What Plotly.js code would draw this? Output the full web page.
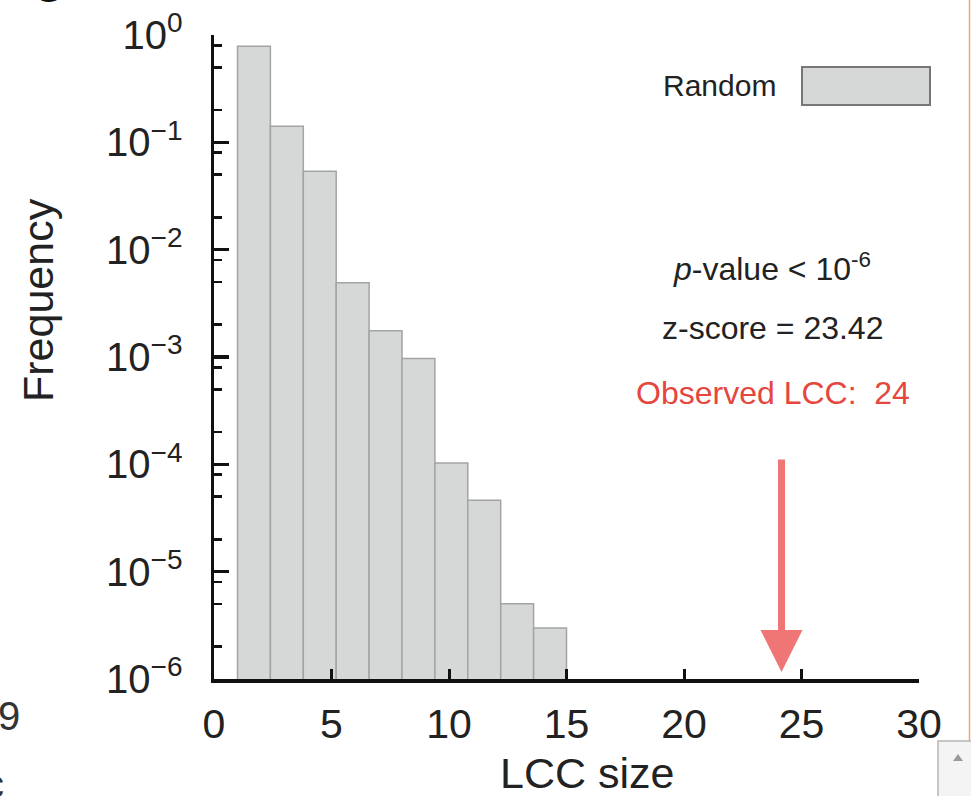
<!DOCTYPE html>
<html>
<head>
<meta charset="utf-8">
<script src="https://cdn.plot.ly/plotly-3.0.1.min.js"></script>
<style>html,body{margin:0;padding:0;background:#fff;overflow:hidden;}#chart{width:971px;height:796px;}</style>
</head>
<body>
<div id="chart"></div>
<script>
// ---- data ----
var binCenters = [1.7, 3.1, 4.5, 5.9, 7.3, 8.7, 10.1, 11.5, 12.9, 14.3];
var binWidth = 1.4;
var frequency = [0.787, 0.141, 0.0538, 0.00491, 0.00176, 0.000966, 0.000103, 0.0000462, 0.00000503, 0.00000299];
var yTickVals = [1, 0.1, 0.01, 0.001, 0.0001, 0.00001, 0.000001];
var yTickText = ['10<sup>0</sup>', '10<sup>\u22121</sup>', '10<sup>\u22122</sup>', '10<sup>\u22123</sup>', '10<sup>\u22124</sup>', '10<sup>\u22125</sup>', '10<sup>\u22126</sup>'];
var yMinorVals = [];
[1, 0.1, 0.01, 0.001, 0.0001, 0.00001, 0.000001].forEach(function (d) {
  if (d > 0.000001) { [0.8, 0.5, 0.2].forEach(function (m) { yMinorVals.push(d * m); }); }
});
var xTickVals = [0, 5, 10, 15, 20, 25, 30];
var seriesName = 'Random';
var observedLCC = 24;
var arrowX = 24.15;
var pValueText = '<i>p</i>-value &lt; 10<sup>-6</sup>';
var zScoreText = 'z-score = 23.42';

// ---- layout helpers (pixel -> paper) ----
var W = 971, H = 796, ML = 214, MR = 52, MT = 35, MB = 117;
var PW = W - ML - MR, PH = H - MT - MB;
function px(x) { return (x - ML) / PW; }
function py(y) { return (H - MB - y) / PH; }

var FONT = 'Liberation Sans, Arial, Helvetica, sans-serif';
var TXT = '#222222';

var trace = {
  type: 'bar',
  x: binCenters,
  y: frequency,
  width: binWidth,
  name: seriesName,
  marker: { color: '#d6d8d7', line: { color: '#a3a5a4', width: 1.5 } },
  showlegend: false,
  hoverinfo: 'x+y'
};

var layout = {
  width: W, height: H,
  margin: { l: ML, r: MR, t: MT, b: MB, pad: 0 },
  paper_bgcolor: '#ffffff', plot_bgcolor: '#ffffff',
  font: { family: FONT, color: TXT },
  showlegend: false,
  bargap: 0,
  xaxis: {
    range: [0, 30], tickmode: 'array', tickvals: xTickVals,
    ticks: 'inside', ticklen: 10, tickwidth: 3, tickcolor: '#111',
    showline: true, linecolor: '#111', linewidth: 3.5,
    showgrid: false, zeroline: false,
    tickfont: { size: 41, color: TXT, family: FONT },
    ticklabelstandoff: 6
  },
  yaxis: {
    type: 'log', range: [-6, 0],
    tickmode: 'array', tickvals: yTickVals, ticktext: yTickText,
    ticks: 'inside', ticklen: 15, tickwidth: 3.5, tickcolor: '#111',
    showline: true, linecolor: '#111', linewidth: 3.5,
    showgrid: false, zeroline: false,
    tickfont: { size: 40, color: TXT, family: FONT },
    ticklabelstandoff: 20,
    minor: { tickmode: 'array', tickvals: yMinorVals, ticks: 'inside', ticklen: 8, tickwidth: 2.5, tickcolor: '#111', showgrid: false }
  },
  shapes: [
    // legend swatch
    { type: 'rect', xref: 'paper', yref: 'paper', x0: px(802), x1: px(930), y0: py(105), y1: py(67),
      fillcolor: '#d6d8d7', line: { color: '#777777', width: 2 } },
    // orange window edge
    { type: 'line', xref: 'paper', yref: 'paper', x0: px(969.5), x1: px(969.5), y0: py(745), y1: py(0),
      line: { color: '#f3a27e', width: 1.5 } },
    // scrollbar box
    { type: 'rect', xref: 'paper', yref: 'paper', x0: px(938), x1: px(975), y0: py(800), y1: py(741),
      fillcolor: '#f4f4f4', line: { color: '#b5b5b5', width: 1.5 } },
    { type: 'path', xref: 'paper', yref: 'paper',
      path: 'M' + px(953) + ',' + py(761) + ' L' + px(963) + ',' + py(761) + ' L' + px(958) + ',' + py(754) + ' Z',
      fillcolor: '#9a9a9a', line: { width: 0 } }
  ],
  annotations: [
    // axis titles
    { xref: 'paper', yref: 'paper', x: px(38), y: py(300), text: 'Frequency', textangle: -90,
      showarrow: false, xanchor: 'center', yanchor: 'middle', font: { size: 43, color: TXT, family: FONT } },
    { xref: 'paper', yref: 'paper', x: px(587), y: py(773), text: 'LCC size',
      showarrow: false, xanchor: 'center', yanchor: 'middle', font: { size: 43, color: TXT, family: FONT } },
    // legend label
    { xref: 'paper', yref: 'paper', x: px(778), y: py(86), text: seriesName,
      showarrow: false, xanchor: 'right', yanchor: 'middle', font: { size: 30, color: TXT, family: FONT } },
    // statistics
    { xref: 'paper', yref: 'paper', x: px(772), y: py(267), text: pValueText,
      showarrow: false, xanchor: 'center', yanchor: 'middle', font: { size: 32, color: TXT, family: FONT } },
    { xref: 'paper', yref: 'paper', x: px(772), y: py(328), text: zScoreText,
      showarrow: false, xanchor: 'center', yanchor: 'middle', font: { size: 32, color: TXT, family: FONT } },
    { xref: 'paper', yref: 'paper', x: px(773), y: py(393), text: 'Observed LCC:  ' + observedLCC,
      showarrow: false, xanchor: 'center', yanchor: 'middle', font: { size: 32, color: '#e5473f', family: FONT } },
    // observed arrow
    { xref: 'x', yref: 'paper', x: arrowX, y: py(672), text: '', showarrow: true,
      ax: 0, ay: -214, arrowhead: 2, arrowsize: 1.2, arrowwidth: 7, arrowcolor: '#f07575', standoff: 0 },
    // cropped neighbouring-panel fragments
    { xref: 'paper', yref: 'paper', x: px(9), y: py(716), text: '9',
      showarrow: false, xanchor: 'center', yanchor: 'middle', font: { size: 40, color: '#333', family: FONT } },
    { xref: 'paper', yref: 'paper', x: px(-6), y: py(784), text: 'c',
      showarrow: false, xanchor: 'center', yanchor: 'middle', font: { size: 40, color: '#333', family: FONT } },
    { xref: 'paper', yref: 'paper', x: px(48), y: py(-14), text: '<b>C</b>',
      showarrow: false, xanchor: 'center', yanchor: 'middle', font: { size: 44, color: '#111', family: FONT } }
  ]
};

Plotly.newPlot('chart', [trace], layout, { displayModeBar: false, staticPlot: true });
</script>
</body>
</html>
